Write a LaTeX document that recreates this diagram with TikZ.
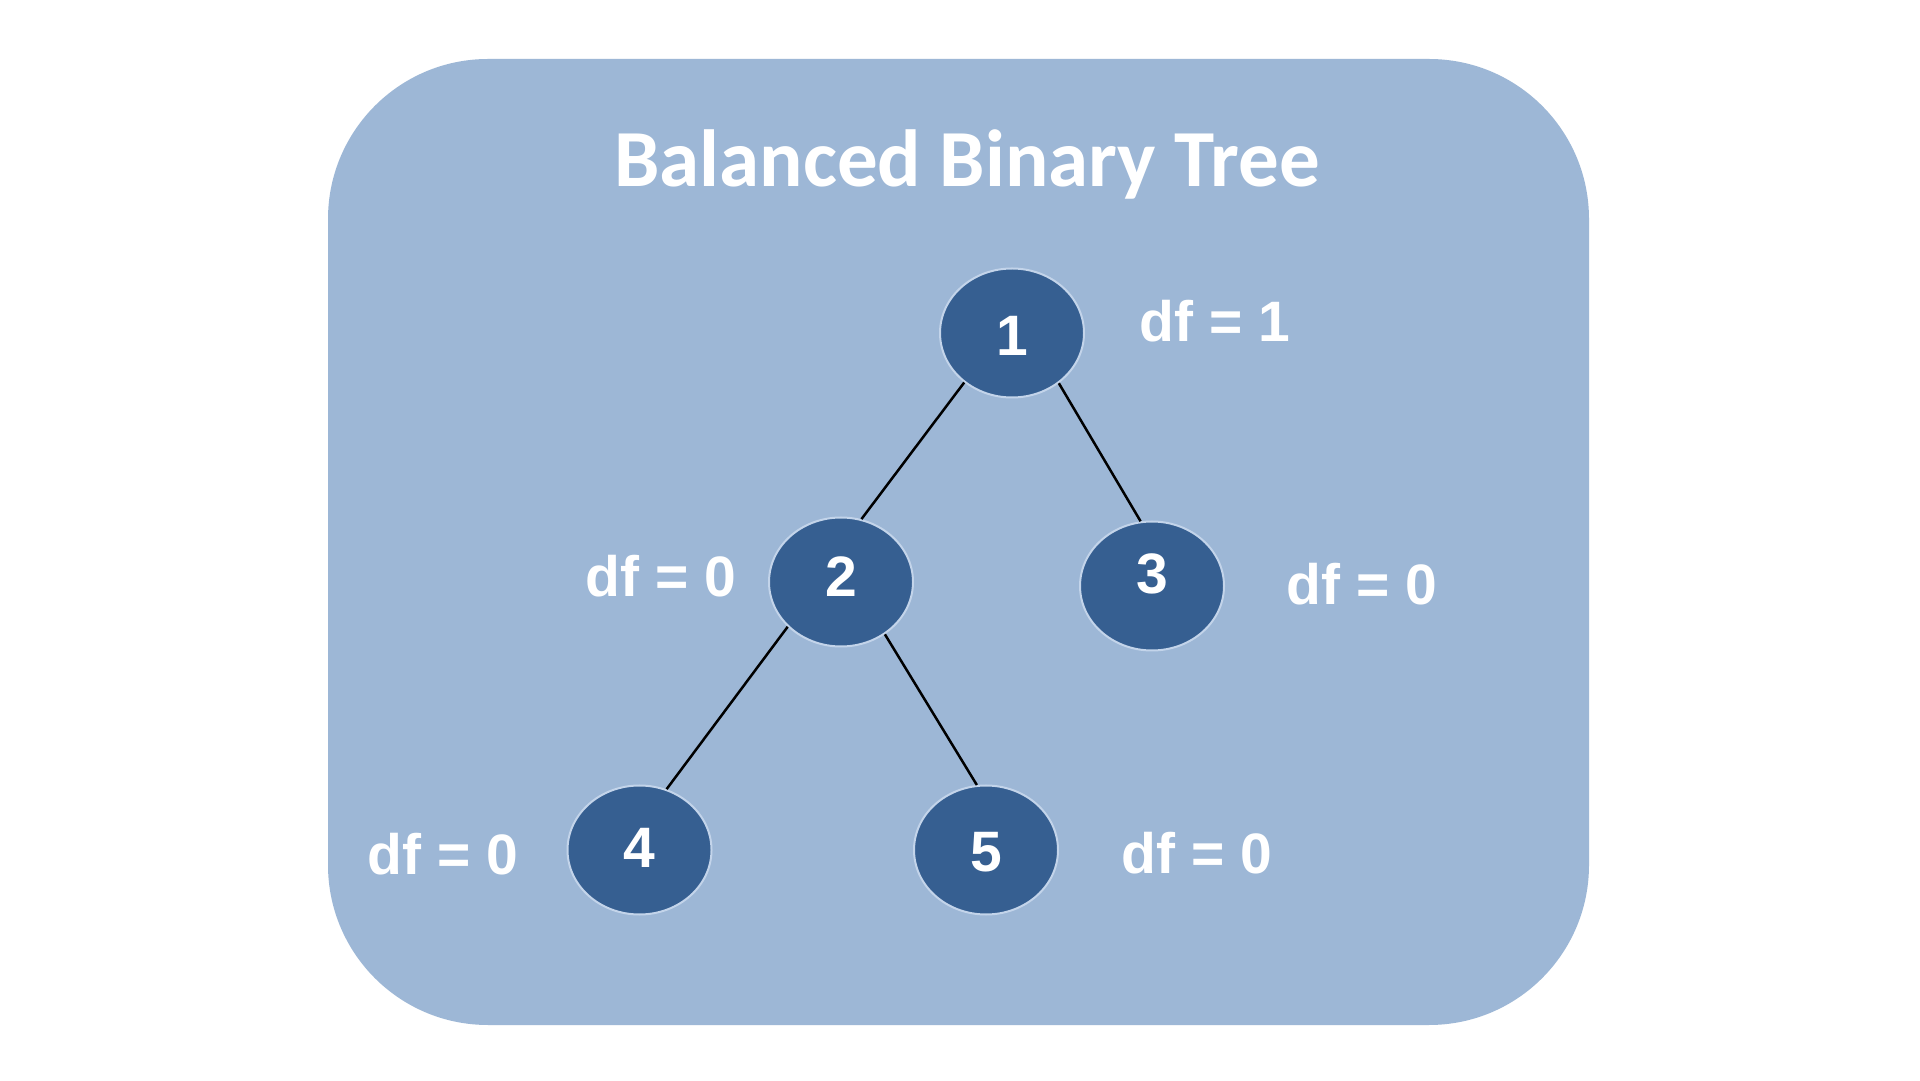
\documentclass[tikz,border=0pt]{standalone}
\usepackage{fontspec}
\setmainfont{Liberation Sans}
\newfontfamily\titlefont{Carlito}
\usetikzlibrary{shapes.geometric}
\definecolor{panelblue}{HTML}{9DB7D6}
\definecolor{nodeblue}{HTML}{365F91}
\definecolor{rimblue}{HTML}{C3D4EA}
\newcommand{\digitshift}[2]{\raisebox{#1}[\height][\depth]{#2}}
\tikzset{
  treenode/.style={ellipse, fill=nodeblue, draw=rimblue, line width=2pt,
    minimum width=144pt, minimum height=129pt, inner sep=0pt,
    text=white, font=\fontsize{57}{57}\selectfont\bfseries},
  dflabel/.style={anchor=base, inner sep=0pt, text=white,
    font=\fontsize{57}{57}\selectfont\bfseries},
  edge/.style={line width=2.5pt, black}
}
\begin{document}
\begin{tikzpicture}[x=1pt,y=1pt]
\useasboundingbox (0,0) rectangle (1920,1080);
\fill[white] (0,0) rectangle (1920,1080);
\fill[panelblue, rounded corners=160pt] (328,55) rectangle (1589,1021);
\node[anchor=base, inner sep=0pt, text=white, font=\titlefont\fontsize{81}{81}\selectfont\bfseries] (title) at (967,893) {Balanced Binary Tree};
\node[treenode] (n1) at (1012,747) {\digitshift{-3pt}{1}};
\node[treenode] (n2) at (841,498) {\digitshift{5pt}{2}};
\node[treenode] (n3) at (1152,494) {\digitshift{12pt}{3}};
\node[treenode] (n4) at (639.5,230) {\digitshift{2pt}{4}};
\node[treenode] (n5) at (986,230) {\digitshift{-2pt}{5}};
\node[dflabel] (d1) at (1215,738) {df = 1};
\node[dflabel] (d2) at (661,483) {df = 0};
\node[dflabel] (d3) at (1362,475) {df = 0};
\node[dflabel] (d4) at (443,206) {df = 0};
\node[dflabel] (d5) at (1197,207) {df = 0};
\draw[edge] (n1.226) -- (n2.72);
\draw[edge] (n1.313) -- (n3.100);
\draw[edge] (n2.220) -- (n4.66);
\draw[edge] (n2.310) -- (n5.98);
\end{tikzpicture}
\end{document}
